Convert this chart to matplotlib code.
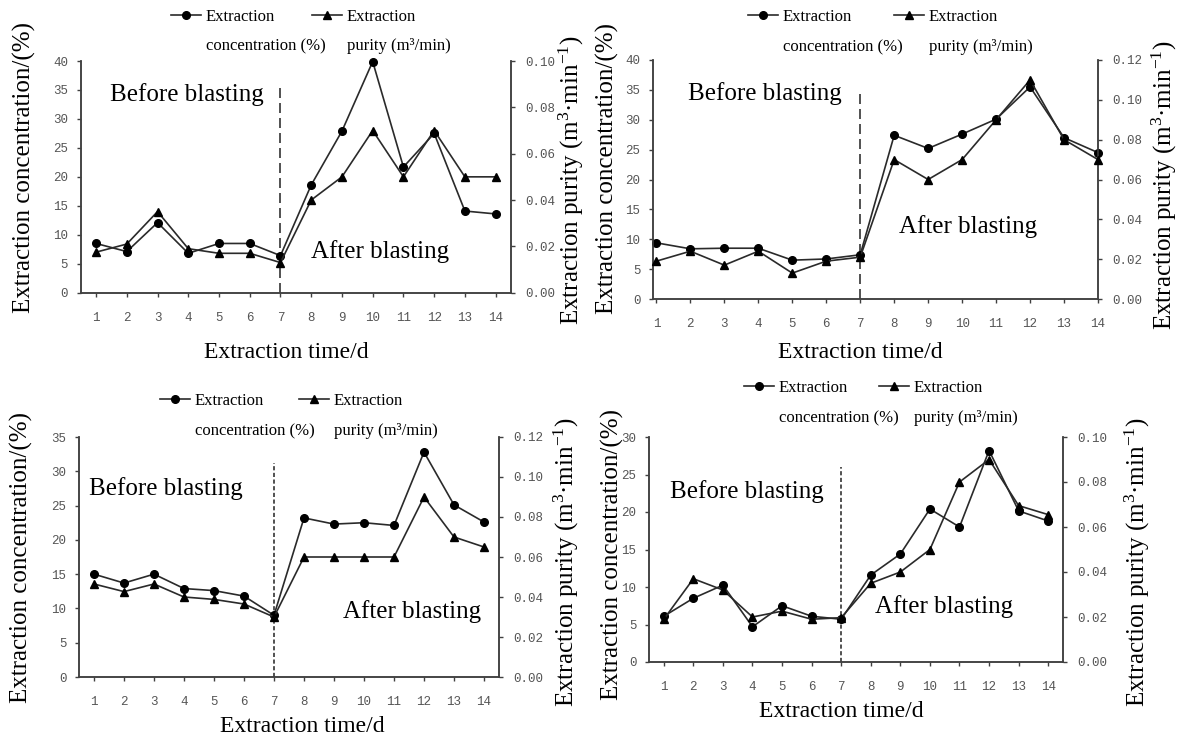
import matplotlib
matplotlib.use("Agg")
import matplotlib.pyplot as plt
from matplotlib.legend import Legend

plt.rcParams['font.family'] = ['Liberation Serif', 'DejaVu Serif']
plt.rcParams['mathtext.fontset'] = 'custom'
plt.rcParams['mathtext.rm'] = 'Liberation Serif'
plt.rcParams['mathtext.default'] = 'regular'

## data
days = list(range(1, 15))
day_labels = [str(d) for d in days]

conc_a = [8.5, 7.1, 12.1, 6.8, 8.5, 8.5, 6.4, 18.6, 27.9, 39.9, 21.7, 27.5, 14.1, 13.6]
pur_a = [0.0175, 0.021, 0.035, 0.019, 0.017, 0.017, 0.013, 0.040, 0.050, 0.070, 0.050, 0.070, 0.050, 0.050]

conc_b = [9.4, 8.4, 8.5, 8.5, 6.5, 6.7, 7.4, 27.4, 25.2, 27.6, 30.1, 35.5, 27.0, 24.5]
pur_b = [0.019, 0.024, 0.017, 0.024, 0.013, 0.019, 0.021, 0.070, 0.060, 0.070, 0.090, 0.110, 0.080, 0.070]

conc_c = [15.0, 13.7, 15.0, 12.9, 12.6, 11.8, 9.0, 23.2, 22.3, 22.5, 22.1, 32.8, 25.1, 22.6]
pur_c = [0.0465, 0.0427, 0.0465, 0.040, 0.0388, 0.0365, 0.030, 0.060, 0.060, 0.060, 0.060, 0.090, 0.070, 0.065]

conc_d = [6.1, 8.5, 10.25, 4.7, 7.5, 6.1, 5.7, 11.6, 14.4, 20.4, 18.0, 28.2, 20.15, 18.8]
pur_d = [0.019, 0.037, 0.032, 0.020, 0.0226, 0.019, 0.0197, 0.035, 0.040, 0.050, 0.080, 0.090, 0.0695, 0.0655]

blast_day = 7
divider_top = [35.8, 35.1, 31.2, 26.0]

conc_label = 'Extraction concentration/(%)'
pur_label = 'Extraction purity (m$^{3}$\u00b7min$^{-1}$)'
x_label = 'Extraction time/d'
leg_first = ['Extraction', 'Extraction']
leg_second = ['concentration (%)', 'purity (m\u00b3/min)']

W, H = 1183, 742
fig = plt.figure(figsize=(W / 100, H / 100), dpi=100)

AX_COL = '#404040'
LINE_COL = '#2a2a2a'
TICK_COL = '#555555'


def px_rect(x0, y0, x1, y1):
    return [x0 / W, 1 - y1 / H, (x1 - x0) / W, (y1 - y0) / H]


# per-panel layout (pixels of the reference)
panels = [
    dict(rect=px_rect(80.7, 61, 511, 292.7), conc=conc_a, pur=pur_a, cmax=40, pmax=0.10,
         xlim=(0.5, 14.5), dash=(0, (6, 3)), before=(3.96, 34.3), after=(10.25, 7.1),
         ylab=(-0.13, 0.54), rlab=(1.14, 0.486), xlab=(0.477, -0.256),
         leg=(171, 312, 17, 46)),
    dict(rect=px_rect(653, 60, 1098, 299), conc=conc_b, pur=pur_b, cmax=40, pmax=0.12,
         xlim=(0.9, 14.0), dash=(0, (6, 3)), before=(4.19, 34.4), after=(10.18, 12.1),
         ylab=(-0.103, 0.544), rlab=(1.15, 0.477), xlab=(0.465, -0.222),
         leg=(748, 894, 17, 47)),
    dict(rect=px_rect(79, 437, 499, 677), conc=conc_c, pur=pur_c, cmax=35, pmax=0.12,
         xlim=(0.5, 14.5), dash=(0, (2.5, 1.5)), before=(3.38, 27.5), after=(11.6, 9.6),
         ylab=(-0.136, 0.496), rlab=(1.16, 0.48), xlab=(0.531, -0.208),
         leg=(160, 299, 401, 431)),
    dict(rect=px_rect(649, 437, 1063, 662), conc=conc_d, pur=pur_d, cmax=30, pmax=0.10,
         xlim=(0.5, 14.5), dash=(0, (2.5, 1.5)), before=(3.82, 22.7), after=(10.49, 7.4),
         ylab=(-0.089, 0.476), rlab=(1.179, 0.444), xlab=(0.464, -0.222),
         leg=(744, 879, 388, 418)),
]

legends = []
for i, p in enumerate(panels):
    ax = fig.add_axes(p['rect'])
    ax2 = ax.twinx()

    l1, = ax.plot(days, p['conc'], color=LINE_COL, lw=1.2, marker='o', ms=5.5,
                  mfc='black', mec='black', clip_on=False, zorder=3)
    l2, = ax2.plot(days, p['pur'], color=LINE_COL, lw=1.2, marker='^', ms=6,
                   mfc='black', mec='black', clip_on=False, zorder=3)
    ax.vlines(blast_day, 0, divider_top[i], colors='#333333', lw=1.2, linestyles=[p['dash']])

    ax.set_xlim(*p['xlim'])
    ax.set_ylim(0, p['cmax'])
    ax2.set_ylim(0, p['pmax'])
    ax.set_xticks(days)
    ax.set_xticklabels(day_labels)
    ax.set_yticks(range(0, p['cmax'] + 1, 5))
    step = 0.02
    n = int(round(p['pmax'] / step))
    rt = [k * step for k in range(n + 1)]
    ax2.set_yticks(rt)
    ax2.set_yticklabels(['%.2f' % v for v in rt])

    for a in (ax, ax2):
        a.spines['top'].set_visible(False)
        for s in a.spines.values():
            s.set_color(AX_COL)
            s.set_linewidth(1.1)
        a.tick_params(colors=AX_COL, labelcolor=TICK_COL, length=3, width=1.0,
                      labelsize=9)
        for t in a.get_xticklabels() + a.get_yticklabels():
            t.set_family(['Liberation Mono', 'DejaVu Sans Mono'])
    ax.tick_params(axis='x', pad=11)
    ax.tick_params(axis='y', pad=6)
    ax2.tick_params(axis='y', pad=7)

    ax.set_ylabel(conc_label, fontsize=18, ha='center', va='center')
    ax.yaxis.set_label_coords(*p['ylab'])
    ax2.set_ylabel(pur_label, fontsize=18, ha='center', va='center', rotation=90)
    ax2.yaxis.set_label_coords(*p['rlab'])
    ax.set_xlabel(x_label, fontsize=17, ha='center', va='center')
    ax.xaxis.set_label_coords(*p['xlab'])

    ax.text(p['before'][0], p['before'][1], 'Before blasting', fontsize=18,
            ha='center', va='center')
    ax.text(p['after'][0], p['after'][1], 'After blasting', fontsize=18,
            ha='center', va='center')

    # legend: one box per entry, second text line added below afterwards
    hx1, hx2, ry, ry2 = p['leg']
    for h, lab, hx in ((l1, leg_first[0], hx1), (l2, leg_first[1], hx2)):
        lg = Legend(ax, [h], [lab], loc='center left', bbox_to_anchor=(hx / W, 1 - ry / H),
                    bbox_transform=fig.transFigure, frameon=False, fontsize=12,
                    handlelength=1.8, handletextpad=0.3, borderpad=0, borderaxespad=0)
        ax.add_artist(lg)
        legends.append((lg, ry2))

fig.canvas.draw()
k = 0
for lg, ry2 in legends:
    bb = lg.get_texts()[0].get_window_extent()
    fig.text(bb.x0 / W, 1 - ry2 / H, leg_second[k % 2], fontsize=12, ha='left', va='center')
    k += 1

fig.savefig('out.png', dpi=100)
